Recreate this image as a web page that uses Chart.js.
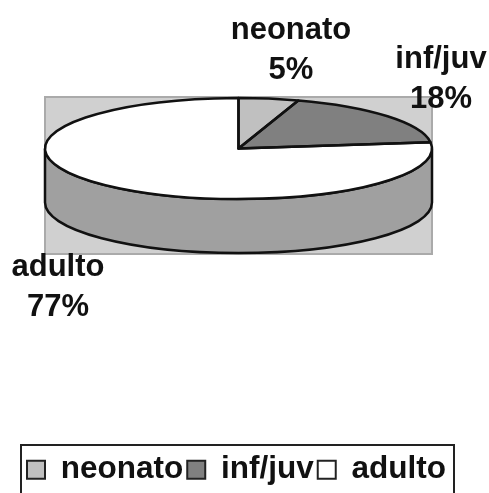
<!DOCTYPE html>
<html>
<head>
<meta charset="utf-8">
<script src="https://cdn.jsdelivr.net/npm/chart.js@4"></script>
<style>html,body{margin:0;padding:0;background:#fff}canvas{display:block}</style>
</head>
<body>
<canvas id="c" width="489" height="493"></canvas>
<script>
const categories = ['neonato', 'inf/juv', 'adulto'];
const values = [5, 18, 77];
const sliceColors = ['#c0c0c0', '#808080', '#ffffff'];
const rimColor = '#a0a0a0';
const plotBack = '#d0d0d0';
const plotEdge = '#aaaaaa';
const ink = '#111111';
const FONT_FAMILY = '"Liberation Sans", Arial, sans-serif';
const FONT_SIZE = 31;
const LEGEND_FONT_SIZE = 31.5;
const labelAnchors = [[291, 39], [441, 68], [58, 276]];
const LINE_GAP = 40;
const RADIUS = 193.5, TOP_CY = 148.5, TOP_RY = 50.5, DEPTH = 54;

const pie3d = {
  id: 'pie3d',
  afterLayout(chart) {
    const lg = chart.legend;
    lg.left = 23;
    lg.right = 470;
    lg.top = 450;
    lg.bottom = 493;
  },
  beforeDraw(chart) {
    const c = chart.ctx;
    // legend frame (open at the bottom edge of the picture)
    c.save();
    c.strokeStyle = '#222';
    c.lineWidth = 2;
    c.beginPath();
    c.moveTo(21, 494); c.lineTo(21, 445); c.lineTo(454, 445); c.lineTo(454, 494);
    c.stroke();
    // plot backdrop
    c.fillStyle = plotBack;
    c.strokeStyle = plotEdge;
    const arc0 = chart.getDatasetMeta(0).data[0];
    const x = arc0.x - arc0.outerRadius, w = arc0.outerRadius * 2;
    c.fillRect(x, TOP_CY - TOP_RY - 1, w, TOP_RY * 2 + DEPTH + 2);
    c.strokeRect(x, TOP_CY - TOP_RY - 1, w, TOP_RY * 2 + DEPTH + 2);
    c.restore();
  },
  beforeDatasetsDraw(chart) {
    const c = chart.ctx;
    const arcs = chart.getDatasetMeta(0).data;
    const a0 = arcs[0];
    // side wall, front half of every slice
    c.save();
    c.lineWidth = 2.5;
    c.strokeStyle = '#111';
    c.fillStyle = rimColor;
    arcs.forEach(a => {
      let s = a.startAngle, e = a.endAngle;
      s = Math.max(s, 0); e = Math.min(e, Math.PI);
      if (e <= s) return;
      c.beginPath();
      c.ellipse(a.x, TOP_CY, a.outerRadius, TOP_RY, 0, s, e);
      c.ellipse(a.x, TOP_CY + DEPTH, a.outerRadius, TOP_RY, 0, e, s, true);
      c.closePath();
      c.fill();
      c.stroke();
    });
    c.restore();
    // flatten the library's pie into the ellipse
    c.save();
    c.translate(0, TOP_CY);
    c.scale(1, TOP_RY / a0.outerRadius);
    c.translate(0, -a0.y);
  },
  afterDatasetsDraw(chart) {
    const c = chart.ctx;
    c.restore();
    const arcs = chart.getDatasetMeta(0).data;
    c.save();
    c.lineWidth = 2.5;
    c.strokeStyle = '#111';
    c.lineJoin = 'round';
    arcs.forEach(a => {
      c.beginPath();
      c.moveTo(a.x, TOP_CY);
      c.ellipse(a.x, TOP_CY, a.outerRadius, TOP_RY, 0, a.startAngle, a.endAngle);
      c.closePath();
      c.stroke();
    });
    // slice labels
    c.fillStyle = ink;
    c.font = 'bold ' + FONT_SIZE + 'px ' + FONT_FAMILY;
    c.textAlign = 'center';
    c.textBaseline = 'alphabetic';
    const total = values.reduce((p, v) => p + v, 0);
    categories.forEach((name, i) => {
      const [x, y] = labelAnchors[i];
      c.fillText(name, x, y);
      c.fillText(Math.round(values[i] / total * 100) + '%', x, y + LINE_GAP);
    });
    c.restore();
  }
};

new Chart(document.getElementById('c'), {
  type: 'pie',
  data: {
    labels: categories,
    datasets: [{
      data: values,
      backgroundColor: sliceColors,
      borderWidth: 0,
      clip: false
    }]
  },
  options: {
    responsive: false,
    animation: false,
    radius: RADIUS,
    layout: { padding: { left: 0, right: 12, top: 0, bottom: 0 } },
    plugins: {
      tooltip: { enabled: false },
      title: { display: false },
      legend: {
        display: true,
        position: 'bottom',
        align: 'start',
        labels: {
          font: { family: FONT_FAMILY, size: LEGEND_FONT_SIZE, weight: 'bold' },
          color: ink,
          boxWidth: 18,
          boxHeight: 18,
          padding: 4,
          generateLabels(chart) {
            return Chart.overrides.pie.plugins.legend.labels.generateLabels(chart).map(l => ({
              ...l, lineWidth: 2, strokeStyle: '#222', fontColor: ink
            }));
          }
        }
      }
    }
  },
  plugins: [pie3d]
});
</script>
</body>
</html>
